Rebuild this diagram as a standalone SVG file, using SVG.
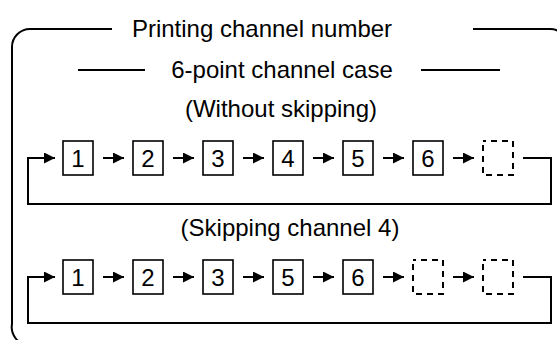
<svg xmlns="http://www.w3.org/2000/svg" width="557" height="340" viewBox="0 0 557 340">
<style>
text{font-family:"Liberation Sans",Arial,sans-serif;font-size:24px;fill:#000;text-anchor:middle}
.ln{fill:none;stroke:#000;stroke-width:2}
.box{fill:#fff;stroke:#000;stroke-width:1.6}
.dbox{fill:none;stroke:#000;stroke-width:2;stroke-dasharray:6 5;stroke-dashoffset:3}
</style>
<defs>
<marker id="ah" viewBox="0 0 10 10" refX="10" refY="5" markerWidth="11" markerHeight="11" markerUnits="userSpaceOnUse" orient="auto">
<path d="M0,0 L10,5 L0,10 z" fill="#000"/>
</marker>
</defs>
<g id="frame">
<path class="ln" d="M112,29 H30 A18,18 0 0 0 12,47 V324 A18,18 0 0 0 28,345"/>
<path class="ln" d="M473,29 H550 A18,18 0 0 1 568,47"/>
<path class="ln" d="M78,70 H145"/>
<path class="ln" d="M421,70 H500"/>
</g>
<g id="titles">
<text x="262" y="37">Printing channel number</text>
<text x="282" y="78">6-point channel case</text>
<text x="281" y="117">(Without skipping)</text>
<text x="290" y="236">(Skipping channel 4)</text>
</g>
<g id="row1">
<g id="r1n1"><rect class="box" x="63" y="141" width="30" height="34"/><text x="78" y="167">1</text></g>
<g id="r1n2"><rect class="box" x="133" y="141" width="30" height="34"/><text x="148" y="167">2</text></g>
<g id="r1n3"><rect class="box" x="203" y="141" width="30" height="34"/><text x="218" y="167">3</text></g>
<g id="r1n4"><rect class="box" x="273" y="141" width="30" height="34"/><text x="288" y="167">4</text></g>
<g id="r1n5"><rect class="box" x="343" y="141" width="30" height="34"/><text x="358" y="167">5</text></g>
<g id="r1n6"><rect class="box" x="413" y="141" width="30" height="34"/><text x="428" y="167">6</text></g>
<g id="r1n7"><rect class="dbox" x="483" y="141" width="30" height="34"/></g>
</g>
<g id="row2">
<g id="r2n1"><rect class="box" x="63" y="260" width="30" height="34"/><text x="78" y="286">1</text></g>
<g id="r2n2"><rect class="box" x="133" y="260" width="30" height="34"/><text x="148" y="286">2</text></g>
<g id="r2n3"><rect class="box" x="203" y="260" width="30" height="34"/><text x="218" y="286">3</text></g>
<g id="r2n4"><rect class="box" x="273" y="260" width="30" height="34"/><text x="288" y="286">5</text></g>
<g id="r2n5"><rect class="box" x="343" y="260" width="30" height="34"/><text x="358" y="286">6</text></g>
<g id="r2n6"><rect class="dbox" x="413" y="260" width="30" height="34"/></g>
<g id="r2n7"><rect class="dbox" x="483" y="260" width="30" height="34"/></g>
</g>
<g id="connectors">
<path class="ln" marker-end="url(#ah)" d="M523,158 H551 V204 H28 V158 H55"/>
<path class="ln" marker-end="url(#ah)" d="M103,158 H124"/>
<path class="ln" marker-end="url(#ah)" d="M173,158 H194"/>
<path class="ln" marker-end="url(#ah)" d="M243,158 H264"/>
<path class="ln" marker-end="url(#ah)" d="M313,158 H334"/>
<path class="ln" marker-end="url(#ah)" d="M383,158 H404"/>
<path class="ln" marker-end="url(#ah)" d="M453,158 H474"/>
<path class="ln" marker-end="url(#ah)" d="M523,277 H551 V323 H28 V277 H55"/>
<path class="ln" marker-end="url(#ah)" d="M103,277 H124"/>
<path class="ln" marker-end="url(#ah)" d="M173,277 H194"/>
<path class="ln" marker-end="url(#ah)" d="M243,277 H264"/>
<path class="ln" marker-end="url(#ah)" d="M313,277 H334"/>
<path class="ln" marker-end="url(#ah)" d="M383,277 H404"/>
<path class="ln" marker-end="url(#ah)" d="M453,277 H474"/>
</g>
</svg>
